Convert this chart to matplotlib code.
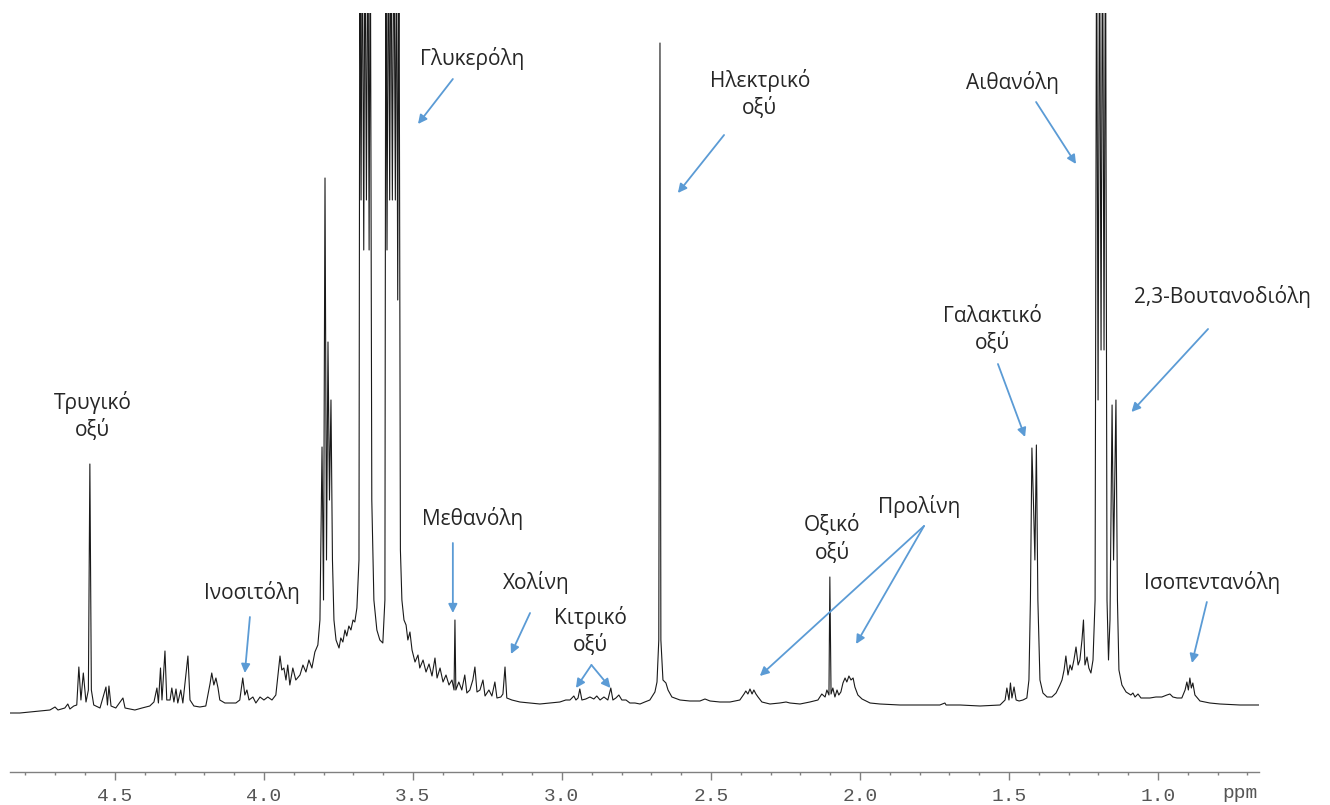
import matplotlib
matplotlib.use("Agg")
import matplotlib.pyplot as plt
from matplotlib.ticker import MultipleLocator, FormatStrFormatter

# 1H NMR spectrum of wine, digitised (chemical shift in ppm, intensity in a.u.)
shift_ppm = [
    4.852, 4.819, 4.785, 4.752, 4.718, 4.701, 4.691, 4.668, 4.658, 4.651, 4.638,
    4.628, 4.621, 4.614, 4.606, 4.597, 4.589, 4.584, 4.579, 4.571, 4.550,
    4.530, 4.525, 4.520, 4.513, 4.497, 4.473, 4.466, 4.433, 4.409, 4.383, 4.369,
    4.359, 4.354, 4.347, 4.342, 4.332, 4.326, 4.315, 4.309, 4.302, 4.295, 4.289,
    4.279, 4.272, 4.262, 4.255, 4.248, 4.235, 4.215, 4.195,
    4.181, 4.175, 4.168, 4.161, 4.154, 4.148, 4.131, 4.107, 4.094, 4.081, 4.071,
    4.064, 4.057, 4.050, 4.037, 4.027, 4.013, 4.000, 3.987, 3.973, 3.960,
    3.946, 3.940, 3.933, 3.926, 3.920, 3.913, 3.903, 3.893, 3.879, 3.869, 3.859,
    3.849, 3.839, 3.829, 3.819, 3.812, 3.805, 3.800, 3.795, 3.790, 3.785, 3.780,
    3.775, 3.770, 3.765, 3.758, 3.748, 3.742, 3.735, 3.728, 3.722, 3.715, 3.708,
    3.701, 3.695, 3.688, 3.681,
    3.678, 3.674, 3.670, 3.665, 3.661, 3.656, 3.651, 3.647, 3.643, 3.638, 3.631,
    3.621, 3.611, 3.601, 3.594,
    3.591, 3.587, 3.582, 3.578, 3.574, 3.569, 3.564, 3.559, 3.555, 3.551, 3.547,
    3.542, 3.537, 3.530, 3.523, 3.517, 3.510, 3.503, 3.493, 3.483, 3.477, 3.466,
    3.456, 3.446, 3.436, 3.426, 3.419, 3.409, 3.399, 3.389, 3.379, 3.369, 3.362,
    3.359, 3.356, 3.346, 3.336, 3.326, 3.319, 3.309, 3.299, 3.292, 3.285, 3.275,
    3.265, 3.258, 3.245, 3.235, 3.225, 3.218, 3.205, 3.198, 3.191, 3.185, 3.168,
    3.141, 3.107, 3.074, 3.040, 3.007, 2.987, 2.973, 2.960, 2.953, 2.946, 2.940,
    2.933, 2.920, 2.906, 2.893, 2.883, 2.872, 2.859, 2.846, 2.836, 2.829, 2.819,
    2.809, 2.799, 2.785, 2.772, 2.755, 2.738, 2.722, 2.705, 2.688, 2.681, 2.675,
    2.671, 2.668, 2.661, 2.651, 2.644, 2.631, 2.604, 2.571, 2.537, 2.520, 2.503,
    2.470, 2.436, 2.403, 2.389, 2.383, 2.376, 2.369, 2.362, 2.356, 2.349, 2.342,
    2.329, 2.302, 2.269, 2.248, 2.235, 2.201, 2.168, 2.141, 2.128, 2.117, 2.111,
    2.104, 2.101, 2.097, 2.091, 2.084, 2.077, 2.071, 2.064, 2.057, 2.050, 2.044,
    2.037, 2.030, 2.023, 2.017, 2.007, 1.993, 1.966, 1.933, 1.866, 1.799, 1.732,
    1.715, 1.711, 1.664, 1.597, 1.530, 1.513, 1.507, 1.500, 1.495, 1.490, 1.483,
    1.476, 1.466, 1.453, 1.440, 1.433, 1.428, 1.423, 1.418, 1.413, 1.408, 1.403,
    1.396, 1.386, 1.372, 1.356, 1.342, 1.329, 1.322, 1.315, 1.309, 1.302, 1.295,
    1.289, 1.282, 1.275, 1.268, 1.262, 1.255, 1.250, 1.245, 1.238, 1.232, 1.225,
    1.218, 1.211, 1.206, 1.201, 1.196, 1.191, 1.186, 1.181, 1.176, 1.171, 1.166,
    1.161, 1.154, 1.149, 1.141, 1.136, 1.131, 1.121, 1.107, 1.091, 1.084, 1.077,
    1.067, 1.057, 1.040, 1.027, 1.007, 0.987, 0.970, 0.960, 0.950, 0.936, 0.920,
    0.909, 0.903, 0.898, 0.893, 0.888, 0.883, 0.876, 0.859, 0.826, 0.792, 0.725,
    0.661,
]
intensity = [
    0, 0, 1, 2, 3, 6, 3, 5, 9, 4, 7,
    8, 46, 13, 40, 11, 23, 249, 23, 8, 5,
    26, 8, 27, 7, 5, 15, 5, 3, 5, 7, 11,
    25, 10, 45, 13, 62, 13, 13, 25, 11, 24, 10,
    23, 10, 38, 57, 13, 7, 6, 7,
    29, 40, 28, 35, 25, 13, 10, 10, 10, 13, 35,
    18, 23, 13, 16, 10, 16, 13, 16, 13, 18,
    57, 43, 45, 33, 48, 28, 45, 33, 38, 48, 41,
    53, 45, 61, 68, 93, 266, 113, 535, 153, 371, 213,
    313, 153, 93, 73, 65, 75, 71, 83, 77, 87, 83,
    93, 91, 105, 153,
    813, 513, 813, 463, 813, 513, 813, 463, 813, 213, 113,
    83, 73, 70, 113,
    813, 463, 813, 513, 813, 513, 813, 513, 813, 413, 813,
    163, 113, 93, 88, 73, 81, 63, 51, 58, 45, 53,
    41, 49, 37, 55, 35, 45, 31, 38, 28, 33, 23,
    93, 23, 31, 23, 38, 20, 23, 33, 46, 21, 23,
    33, 17, 23, 17, 31, 15, 16, 19, 46, 15, 13,
    11, 10, 9, 10, 11, 13, 13, 17, 13, 15, 24,
    13, 14, 16, 14, 17, 13, 16, 13, 25, 13, 15,
    18, 13, 13, 10, 10, 9, 11, 13, 21, 31, 73,
    670, 73, 33, 30, 23, 16, 13, 12, 12, 14, 12,
    11, 11, 13, 19, 22, 19, 24, 19, 23, 19, 16,
    11, 9, 10, 11, 10, 9, 11, 13, 19, 16, 23,
    18, 136, 19, 25, 16, 23, 18, 21, 30, 35, 31,
    37, 33, 35, 26, 18, 14, 10, 9, 8, 8, 8,
    10, 8, 8, 7, 8, 13, 25, 13, 30, 15, 26,
    13, 12, 13, 15, 33, 113, 265, 213, 153, 268, 113,
    33, 20, 16, 16, 20, 28, 33, 43, 57, 38, 48,
    43, 53, 66, 48, 53, 73, 93, 48, 56, 45, 40,
    53, 113, 813, 313, 813, 363, 813, 363, 813, 113, 53,
    93, 308, 153, 313, 113, 43, 28, 21, 18, 20, 16,
    19, 15, 15, 15, 16, 16, 18, 19, 16, 15, 15,
    23, 31, 23, 35, 25, 30, 18, 12, 10, 9, 8,
    8,
]

# compound labels: text, text position (ppm, a.u.)
label_text = ["Τρυγικό\nοξύ", "Ινοσιτόλη", "Γλυκερόλη", "Μεθανόλη", "Χολίνη",
              "Κιτρικό\nοξύ", "Ηλεκτρικό\nοξύ", "Οξικό\nοξύ", "Προλίνη",
              "Αιθανόλη", "Γαλακτικό\nοξύ", "2,3-Βουτανοδιόλη", "Ισοπεντανόλη"]
label_ppm = [4.574, 4.040, 3.302, 3.299, 3.087, 2.903, 2.336, 2.094, 1.802,
             1.487, 1.554, 0.785, 0.819]
label_int = [297, 120, 654, 195, 131, 82, 619, 174, 207, 631, 383, 416, 131]

# arrows: tail (ppm, a.u.) -> head (ppm, a.u.)
arrow_tail_ppm = [4.047, 3.366, 3.366, 3.107, 2.901, 2.901, 2.456, 1.785, 1.785,
                  1.409, 1.537, 0.832, 0.836]
arrow_tail_int = [96, 634, 170, 100, 48, 48, 578, 187, 187, 611, 349, 384, 111]
arrow_head_ppm = [4.064, 3.483, 3.366, 3.171, 2.953, 2.837, 2.611, 2.336, 2.013,
                  1.275, 1.446, 1.089, 0.886]
arrow_head_int = [40, 589, 100, 59, 25, 25, 520, 37, 69, 549, 276, 301, 50]

text_font = ["Open Sans", "DejaVu Sans"]
blue = "#5B9BD5"
grey = "#808080"

fig = plt.figure(figsize=(13.3, 8.05), dpi=100)
ax = fig.add_axes([10 / 1330, 33 / 805, 1249 / 1330, 759 / 805])

ax.plot(shift_ppm, intensity, color="#1a1a1a", lw=0.8)
ax.set_xlim(4.852, 0.661)
ax.set_ylim(-59, 700)

for s in ["top", "left", "right"]:
    ax.spines[s].set_visible(False)
ax.spines["bottom"].set_color(grey)
ax.spines["bottom"].set_linewidth(1.0)
ax.set_yticks([])

ax.xaxis.set_major_locator(MultipleLocator(0.5))
ax.xaxis.set_minor_locator(MultipleLocator(0.1))
ax.xaxis.set_major_formatter(FormatStrFormatter("%.1f"))
ax.tick_params(axis="x", which="major", direction="out", length=5.5, width=1.0,
               color=grey, labelcolor="#555555", labelsize=14, pad=6)
ax.tick_params(axis="x", which="minor", direction="out", length=2.5, width=1.0,
               color=grey)
for lab in ax.get_xticklabels():
    lab.set_fontfamily("Liberation Mono")
ax.text(0.725, -0.028, "ppm", transform=ax.get_xaxis_transform(),
        ha="center", va="center", fontsize=14, color="#555555",
        family="Liberation Mono")

for txt, px, py in zip(label_text, label_ppm, label_int):
    ax.text(px, py, txt, ha="center", va="center", fontsize=15,
            color="#262626", family=text_font, linespacing=1.3)

for tx, ty, hx, hy in zip(arrow_tail_ppm, arrow_tail_int, arrow_head_ppm, arrow_head_int):
    ax.annotate("", xy=(hx, hy), xytext=(tx, ty),
                arrowprops=dict(arrowstyle="-|>", color=blue, lw=1.3,
                                mutation_scale=13, shrinkA=0, shrinkB=0))

fig.savefig("out.png", dpi=100, facecolor="white")
